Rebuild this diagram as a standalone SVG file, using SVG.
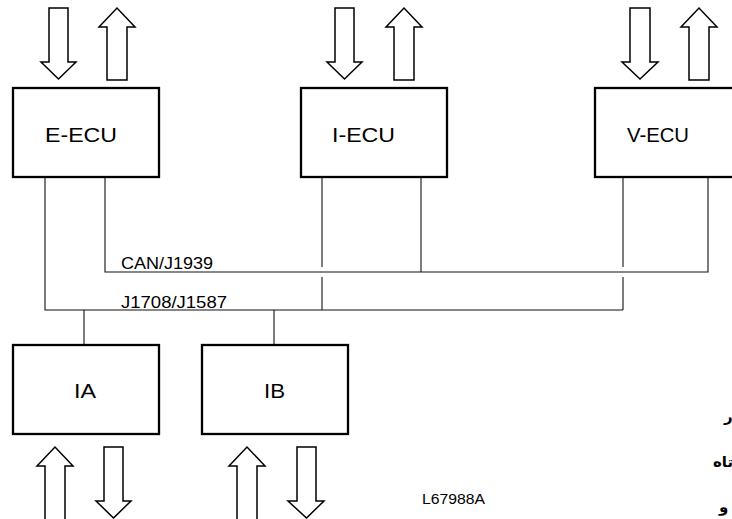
<svg xmlns="http://www.w3.org/2000/svg" width="732" height="519" viewBox="0 0 732 519">
<style>
.box{fill:#fff;stroke:#000;stroke-width:2.3}
.arr{fill:#fff;stroke:#000;stroke-width:1.5;stroke-linejoin:miter}
.wire{fill:none;stroke:#111;stroke-width:1.1}
.lbl{font-family:"Liberation Sans",Arial,sans-serif;font-size:21px;fill:#000}
.bus{font-family:"Liberation Sans",Arial,sans-serif;font-size:17px;fill:#000}
.ref{font-family:"Liberation Sans",Arial,sans-serif;font-size:14px;fill:#000}
.ar{font-family:"DejaVu Sans",sans-serif;font-size:15px;font-weight:bold;fill:#000}
</style>
<rect width="732" height="519" fill="#fff"/>
<g id="connectors">
<polyline class="wire" points="45,177 45,310 623,310"/>
<polyline class="wire" points="105,177 105,272 708,272 708,177"/>
<line class="wire" x1="322" y1="177" x2="322" y2="267"/>
<line class="wire" x1="322" y1="277" x2="322" y2="310"/>
<line class="wire" x1="421" y1="177" x2="421" y2="272"/>
<line class="wire" x1="623" y1="177" x2="623" y2="267"/>
<line class="wire" x1="623" y1="277" x2="623" y2="310"/>
<line class="wire" x1="84" y1="310" x2="84" y2="345"/>
<line class="wire" x1="274" y1="310" x2="274" y2="345"/>
<text class="bus" x="121" y="269" textLength="92" lengthAdjust="spacingAndGlyphs">CAN/J1939</text>
<text class="bus" x="121" y="308" textLength="106" lengthAdjust="spacingAndGlyphs">J1708/J1587</text>
</g>
<g id="e-ecu">
<polygon class="arr" points="49,8 68,8 68,62 76,62 58.5,79 41,62 49,62"/>
<polygon class="arr" points="107,80 127,80 127,27 135,27 117,8 99,27 107,27"/>
<rect class="box" x="13" y="88" width="146" height="89"/>
<text class="lbl" x="45" y="142" textLength="72" lengthAdjust="spacingAndGlyphs">E-ECU</text>
</g>
<g id="i-ecu">
<polygon class="arr" points="335,8 354,8 354,62 362,62 344.5,79 327,62 335,62"/>
<polygon class="arr" points="394,80 414,80 414,27 422,27 404,8 386,27 394,27"/>
<rect class="box" x="301" y="88" width="146" height="89"/>
<text class="lbl" x="332" y="142" textLength="63" lengthAdjust="spacingAndGlyphs">I-ECU</text>
</g>
<g id="v-ecu">
<polygon class="arr" points="630,8 650,8 650,62 658,62 640,79 622,62 630,62"/>
<polygon class="arr" points="689,80 709,80 709,27 717,27 699,8 681,27 689,27"/>
<rect class="box" x="595" y="88" width="150" height="89"/>
<text class="lbl" x="627" y="142" textLength="62" lengthAdjust="spacingAndGlyphs">V-ECU</text>
</g>
<g id="ia">
<rect class="box" x="13" y="345" width="146" height="89"/>
<text class="lbl" x="74" y="398" textLength="22" lengthAdjust="spacingAndGlyphs">IA</text>
<polygon class="arr" points="45,525 65,525 65,466 73,466 55,447 37,466 45,466"/>
<polygon class="arr" points="104,447 123,447 123,501 131,501 113.5,518 96,501 104,501"/>
</g>
<g id="ib">
<rect class="box" x="202" y="345" width="146" height="89"/>
<text class="lbl" x="264" y="398" textLength="21" lengthAdjust="spacingAndGlyphs">IB</text>
<polygon class="arr" points="237,525 257,525 257,466 265,466 247,447 229,466 237,466"/>
<polygon class="arr" points="297,447 316,447 316,501 324,501 306.5,518 288,501 297,501"/>
</g>
<text class="ref" x="422" y="504" textLength="63" lengthAdjust="spacingAndGlyphs">L67988A</text>
<text class="ar" x="724" y="421">ر</text>
<text class="ar" x="713" y="467">تاه</text>
<text class="ar" x="719" y="512">و</text>
</svg>
